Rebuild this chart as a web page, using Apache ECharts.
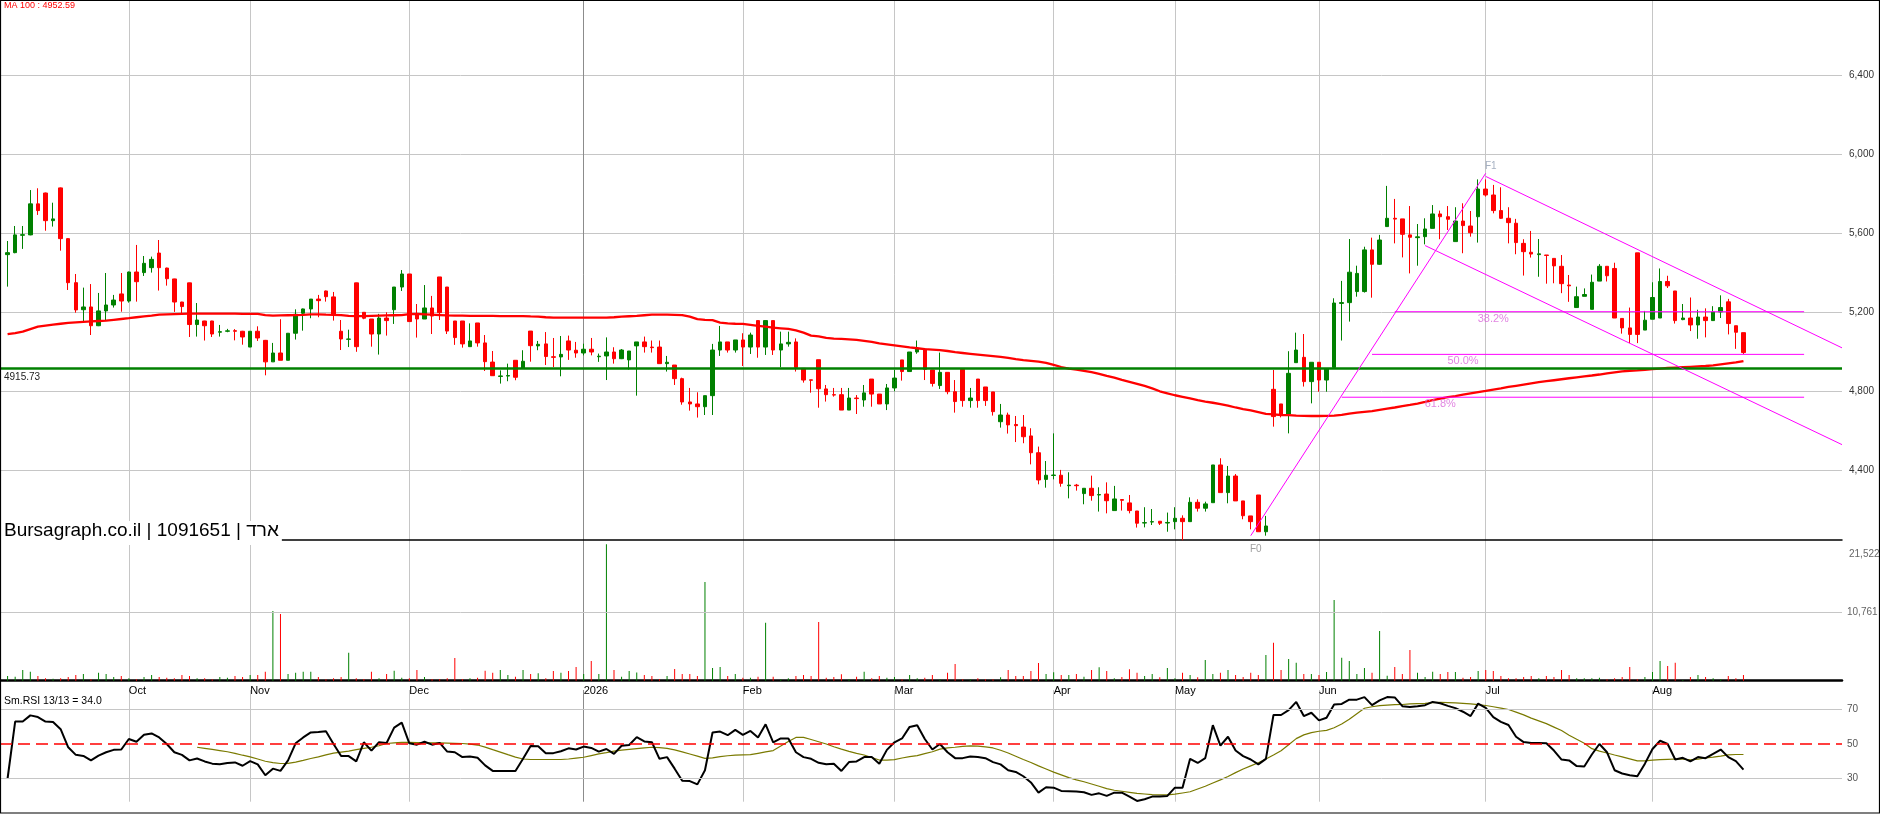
<!DOCTYPE html>
<html><head><meta charset="utf-8">
<script src="https://cdn.jsdelivr.net/npm/echarts@6/dist/echarts.min.js"></script>
<style>html,body{margin:0;padding:0;background:#fff;}#c{width:1880px;height:814px;}</style>
</head><body><div id="c"></div>
<script>
const monthStarts = [16, 32, 53, 76, 97, 117, 138, 154, 173, 195, 217];
const monthLabels = ['Oct', 'Nov', 'Dec', '2026', 'Feb', 'Mar', 'Apr', 'May', 'Jun', 'Jul', 'Aug'];

const opens = [
5492,5502,5590,5592,5749,5804,5664,5830,5573,5350,
5213,5227,5132,5207,5237,5293,5257,5404,5401,5426,
5500,5424,5369,5252,5349,5138,5156,5156,5099,5104,
5107,5104,5024,5104,5058,4949,4994,4957,5094,5195,
5217,5267,5308,5278,5104,5063,5349,5200,5166,5090,
5171,5213,5328,5394,5187,5166,5222,5379,5328,5156,
5156,5026,5146,5045,4948,4875,4877,4957,4918,5105,
5030,5040,4975,4974,5055,5008,4994,5013,4975,4979,
4999,4965,4959,5030,5050,5024,5024,4940,4933,4864,
4746,4736,4722,4778,5009,5050,5009,5060,5024,5158,
5024,5158,5009,5040,5050,4916,4858,4960,4812,4783,
4783,4705,4766,4756,4862,4786,4736,4817,4959,4900,
4999,5014,4908,4829,4896,4798,4911,4753,4862,4822,
4797,4646,4680,4632,4619,4574,4489,4354,4374,4375,
4322,4325,4282,4309,4275,4280,4196,4252,4235,4194,
4133,4138,4142,4133,4140,4157,4140,4238,4208,4236,
4427,4287,4371,4245,4169,4275,4089,4810,4736,4685,
4945,4972,4849,4947,4857,4921,5245,5249,5305,5305,
5516,5443,5634,5676,5673,5592,5578,5583,5625,5698,
5684,5558,5662,5637,5684,5824,5794,5715,5676,5651,
5549,5504,5492,5490,5473,5433,5338,5224,5281,5215,
5358,5433,5422,5169,5121,5501,5110,5165,5171,5356,
5308,5163,5171,5136,5176,5158,5202,5253,5132,5097];
const highs = [
5561,5637,5637,5819,5828,5806,5755,5832,5575,5394,
5325,5343,5298,5399,5288,5399,5406,5541,5485,5482,
5566,5426,5370,5253,5350,5247,5157,5157,5136,5116,
5115,5106,5104,5129,5060,5045,5165,5094,5215,5219,
5267,5288,5310,5303,5161,5112,5350,5200,5166,5192,
5200,5328,5414,5394,5242,5338,5283,5379,5328,5156,
5156,5144,5146,5085,5004,4906,4940,4957,5008,5105,
5055,5100,5070,5080,5082,5050,5041,5070,4991,5073,
5023,5014,5004,5050,5077,5057,5057,4979,4933,4869,
4817,4795,4778,5040,5131,5050,5060,5094,5097,5158,
5158,5158,5102,5102,5068,4916,4858,4960,4832,4817,
4817,4817,4781,4832,4862,4786,4837,4908,4959,4999,
5057,5014,4908,4996,4896,4857,4911,4817,4862,4822,
4797,4736,4692,4675,4680,4613,4520,4447,4587,4402,
4390,4331,4309,4373,4314,4339,4321,4252,4275,4194,
4213,4204,4142,4186,4213,4172,4263,4253,4241,4427,
4461,4422,4381,4245,4169,4275,4169,4908,4736,5003,
5097,5090,4947,4947,4913,5271,5359,5571,5436,5532,
5578,5592,5840,5774,5673,5738,5647,5676,5743,5715,
5738,5732,5752,5713,5873,5873,5845,5833,5732,5673,
5570,5612,5571,5490,5473,5490,5389,5330,5321,5391,
5444,5433,5451,5169,5224,5501,5207,5352,5422,5385,
5308,5242,5275,5213,5220,5231,5286,5268,5132,5097];
const lows = [
5330,5499,5521,5590,5693,5613,5634,5512,5313,5198,
5156,5085,5130,5161,5224,5203,5249,5254,5384,5401,
5310,5335,5202,5190,5075,5077,5057,5075,5077,5099,
5058,5036,5024,5055,4881,4949,4957,4957,5062,5107,
5170,5175,5254,5158,5009,5024,5000,5165,5026,4986,
5082,5141,5308,5153,5072,5166,5090,5161,5090,5035,
5021,5026,5026,4903,4878,4839,4851,4856,4918,4950,
5008,4933,4923,4876,4959,4970,4982,4982,4949,4857,
4940,4963,4910,4778,4996,4996,4940,4900,4832,4732,
4702,4667,4680,4680,4979,4996,4996,4928,4989,4970,
4984,4984,4922,5026,4900,4844,4793,4717,4748,4773,
4705,4705,4685,4722,4722,4736,4705,4800,4854,4900,
4990,4857,4824,4812,4785,4692,4722,4717,4717,4726,
4677,4616,4586,4543,4537,4430,4329,4312,4354,4317,
4258,4297,4228,4246,4191,4182,4196,4196,4182,4110,
4111,4123,4123,4089,4101,4046,4140,4191,4191,4236,
4287,4233,4245,4152,4101,4089,4069,4621,4668,4587,
4945,4824,4739,4798,4798,4921,5057,5153,5279,5300,
5274,5440,5634,5549,5478,5397,5436,5544,5625,5570,
5617,5558,5499,5583,5553,5786,5701,5673,5549,5494,
5386,5477,5380,5345,5347,5297,5253,5224,5281,5215,
5358,5356,5171,5092,5044,5044,5110,5165,5171,5323,
5143,5160,5105,5066,5073,5156,5171,5088,5015,4989];
const closes = [
5502,5592,5593,5749,5715,5664,5673,5573,5350,5212,
5227,5132,5207,5237,5262,5257,5404,5355,5448,5468,
5426,5370,5252,5229,5138,5161,5132,5090,5102,5106,
5104,5075,5104,5070,4949,4994,4957,5094,5190,5217,
5267,5259,5279,5190,5065,5065,5026,5170,5090,5171,
5158,5328,5394,5153,5166,5222,5181,5198,5105,5072,
5040,5055,5045,4950,4879,4878,4880,4871,4952,5031,
5038,4976,4972,4987,5009,4994,5013,4999,4978,4999,
4965,5009,5004,5050,5026,5021,4940,4947,4864,4746,
4736,4722,4778,5009,5050,5009,5060,5024,5085,5024,
5158,5009,5040,5048,4921,4857,4856,4813,4783,4781,
4705,4766,4763,4792,4786,4736,4817,4867,4900,4999,
5016,4911,4840,4896,4798,4748,4753,4766,4753,4753,
4697,4680,4630,4626,4570,4489,4351,4375,4376,4334,
4325,4322,4309,4272,4277,4246,4255,4248,4196,4132,
4135,4140,4132,4136,4157,4140,4238,4208,4230,4427,
4287,4371,4245,4170,4140,4089,4118,4672,4685,4891,
5009,4849,4947,4857,4913,5247,5249,5403,5397,5516,
5443,5566,5676,5672,5595,5580,5582,5622,5698,5684,
5671,5662,5639,5603,5824,5794,5715,5676,5654,5553,
5507,5495,5496,5488,5435,5345,5334,5279,5290,5352,
5433,5385,5171,5121,5088,5088,5160,5275,5356,5334,
5158,5171,5136,5176,5158,5202,5224,5143,5099,4996];

const ma100 = [
5089,5095,5102,5115,5127,5133,5138,5142,5146,5149,
5152,5154,5156,5158,5162,5166,5170,5175,5179,5183,
5188,5190,5191,5192,5193,5193,5193,5193,5193,5193,
5193,5192,5192,5192,5186,5183,5184,5185,5186,5187,
5189,5190,5188,5187,5186,5182,5181,5181,5182,5183,
5184,5185,5186,5191,5192,5190,5188,5186,5184,5183,
5183,5182,5182,5182,5182,5181,5181,5181,5181,5179,
5178,5175,5173,5173,5173,5173,5173,5173,5173,5173,
5175,5178,5180,5182,5185,5188,5188,5188,5187,5186,
5178,5165,5162,5160,5148,5144,5142,5141,5136,5131,
5127,5122,5119,5116,5108,5097,5082,5078,5070,5067,
5065,5063,5060,5055,5050,5043,5038,5033,5028,5022,
5018,5014,5011,5008,5004,4998,4994,4990,4986,4982,
4978,4974,4969,4963,4958,4954,4950,4944,4934,4923,
4915,4910,4904,4897,4888,4878,4869,4858,4848,4838,
4827,4815,4800,4790,4780,4772,4764,4755,4748,4742,
4735,4727,4718,4710,4703,4695,4686,4683,4680,4679,
4677,4676,4675,4675,4676,4677,4681,4687,4692,4696,
4700,4706,4712,4718,4725,4731,4738,4746,4755,4763,
4770,4776,4783,4790,4796,4802,4809,4815,4822,4828,
4834,4840,4846,4851,4856,4861,4866,4871,4876,4880,
4885,4891,4896,4901,4904,4906,4909,4912,4915,4918,
4920,4922,4924,4926,4928,4931,4936,4941,4946,4953];

const volumes = [
735,630,1680,1420,735,370,300,370,580,890,
1050,210,1260,1050,580,735,370,210,580,890,
580,470,370,890,735,370,370,210,580,470,
735,580,890,890,1420,10970,10500,1050,1260,1420,
1420,580,210,370,580,4400,370,250,1420,370,
1050,1570,470,370,1680,580,250,210,370,3570,
250,370,470,1560,1260,1680,890,630,1680,1050,
1160,370,1520,1260,1520,2150,1050,3100,1050,21450,
1680,630,1520,1300,890,735,210,735,1830,1050,
1050,735,15540,2000,2150,735,1050,470,470,630,
9135,630,210,370,735,890,735,9240,470,580,
1000,210,630,1420,370,735,470,580,210,890,
370,470,890,210,1260,2625,210,210,370,210,
210,525,1680,735,735,1520,2780,1050,1310,890,
890,1050,630,1680,2100,1520,370,580,1785,1260,
735,1050,525,2000,370,1260,890,525,3255,1050,
1260,1680,890,580,1260,890,4040,5985,1680,3410,
2835,1050,1050,890,1365,12700,3620,3100,1050,2000,
1260,7820,790,2150,1050,4830,1260,580,1420,1050,
1365,1365,470,580,1520,1680,1520,735,370,370,
580,735,370,735,580,1680,890,370,370,370,
470,210,370,580,2150,210,580,1365,3100,2310,
2835,100,580,890,580,370,210,735,370,890];

const rsi = [
30.0,63.0,63.0,66.6,65.6,63.0,62.8,58.6,48.1,43.7,
43.1,40.5,43.3,45.2,46.6,46.8,52.9,51.3,55.3,56.1,
53.8,50.0,45.2,43.7,40.5,41.6,39.9,38.6,38.2,39.0,
39.3,37.4,40.1,38.2,31.9,35.7,34.4,40.5,50.4,53.8,
56.7,56.9,57.4,50.0,43.0,43.0,39.9,51.0,46.2,51.0,
50.6,59.5,62.4,50.4,49.6,51.3,49.6,50.6,45.6,45.2,
42.4,42.8,42.0,37.6,34.4,34.4,34.4,34.4,41.4,48.9,
48.7,44.7,44.7,45.8,47.5,46.8,48.5,47.7,45.6,47.1,
44.3,49.0,49.4,54.0,51.5,51.0,41.4,42.4,35.7,28.7,
28.5,26.6,34.8,56.7,57.2,55.1,58.2,55.3,57.6,53.8,
61.4,51.0,53.2,53.2,45.2,42.4,41.4,39.1,38.2,38.6,
34.4,39.5,39.9,42.4,42.4,38.6,46.6,51.0,53.2,59.9,
60.9,52.9,46.8,50.0,45.2,41.8,41.8,42.8,42.4,41.8,
39.5,38.2,34.8,33.8,31.3,27.7,21.8,24.9,24.7,22.8,
22.6,22.4,22.0,20.5,21.4,19.9,21.8,21.8,19.5,17.0,
18.0,19.5,19.5,19.9,24.7,24.7,41.4,39.0,41.8,60.9,
49.0,54.2,46.2,43.0,41.0,38.2,41.4,66.8,66.8,69.6,
74.4,66.2,68.1,63.7,65.2,72.9,73.2,75.7,75.7,77.2,
72.5,75.3,77.2,77.0,71.9,71.5,71.9,72.5,74.4,73.6,
72.1,70.8,68.7,66.2,73.4,71.0,65.6,62.8,61.0,54.2,
51.1,50.6,50.6,50.4,46.2,41.0,40.5,37.2,37.0,43.9,
50.0,45.2,34.8,32.9,31.9,31.3,38.6,47.1,51.9,50.0,
41.0,42.0,39.9,42.4,41.8,44.3,46.8,42.4,40.1,35.1];

const rsiSignalStart = 25;
const rsiSignal = [
48.1,47.5,46.9,46.2,45.5,44.6,43.5,42.5,41.3,40.0,
39.2,38.7,38.8,39.5,40.5,41.6,42.5,43.7,44.7,45.3,
45.9,46.7,47.5,48.1,49.0,50.3,50.7,50.9,51.0,50.8,
50.6,50.6,50.6,50.5,50.4,50.3,49.9,49.4,48.2,46.7,
45.3,43.8,42.4,41.3,41.0,41.0,41.0,41.0,41.0,41.3,
41.8,42.3,43.3,44.3,45.0,45.9,46.5,46.9,47.3,47.7,
48.1,47.9,47.5,46.6,45.4,44.2,43.0,41.7,42.0,42.7,
43.2,43.5,43.7,43.8,44.6,45.4,46.2,48.8,51.5,53.8,
53.8,52.6,51.3,50.0,48.4,47.0,45.7,44.6,43.6,42.2,
40.7,40.6,40.9,41.9,42.7,43.3,44.4,45.5,47.0,47.8,
48.1,48.6,48.9,48.8,48.3,47.7,46.4,44.8,42.9,41.0,
39.3,37.3,35.5,33.7,32.1,30.5,29.2,28.1,26.8,25.5,
24.1,23.2,22.6,22.0,21.4,21.0,20.6,20.5,20.5,20.9,
21.6,22.3,23.9,25.5,27.4,29.2,31.2,33.4,35.5,37.3,
39.1,41.3,43.6,46.1,49.6,53.1,55.3,56.6,57.4,57.9,
59.4,61.6,64.3,67.5,70.7,71.6,72.2,72.5,72.8,72.9,
73.2,73.4,73.6,74.0,74.2,74.0,73.8,73.6,73.3,72.8,
72.3,71.6,70.8,70.0,68.5,66.9,65.0,63.4,61.8,59.8,
57.8,55.1,52.7,50.4,47.3,45.9,44.8,43.6,42.5,41.4,
40.2,40.2,40.7,40.9,41.1,41.3,41.2,40.8,41.2,41.9,
42.4,43.0,43.7,43.9,43.9];

const supportLevel = 4915.73;
const volumeGridValue = 10761;
const volumeMaxLabel = '21,522';
const rsiLevels = [70, 50, 30];
const fibStart = [164, 4069];   // F0 : [candle index, price]
const fibEnd = [195, 5904];     // F1
const fibLevels = [
  { name: '38.2%', value: 5203, from: 183, to: 237, labelAt: 196 },
  { name: '50.0%', value: 4987, from: 180, to: 237, labelAt: 192 },
  { name: '61.8%', value: 4770, from: 176, to: 237, labelAt: 189 }
];
const channelUpper = [[195, 5888], [242, 5020]];
const channelLower = [[187, 5538], [242, 4530]];
const maLabel = 'MA 100 : 4952.59';
const rsiLabel = 'Sm.RSI 13/13 = 34.0';
const brandLabel = 'Bursagraph.co.il | 1091651 | ארד';

// ---------- build ----------
const SLOTS = 244;
const cats = Array.from({ length: SLOTS }, (_, k) => String(k));
const monthAt = {};
monthStarts.forEach((s, j) => { monthAt[s + 1] = monthLabels[j]; });
const isMonth = (idx) => monthAt[idx] !== undefined;
const splitColors = monthLabels.map(m => m === '2026' ? '#8c8c8c' : '#c6c6c6');
const X = (i) => i + 1;
const FONT = 'Liberation Sans, Arial, sans-serif';
const UP = '#008000', DOWN = '#ff0000', MAG = '#ff00ff';

function xBase(gridIndex) {
  return {
    type: 'category', gridIndex, data: cats, boundaryGap: false,
    axisLine: { show: false }, axisTick: { show: false }, axisLabel: { show: false },
    splitLine: { show: true, interval: (i) => isMonth(i), lineStyle: { color: splitColors, width: 1 } }
  };
}

const candleData = opens.map((o, i) => [X(i), o, closes[i], lows[i], highs[i]]);
const volData = volumes.map((v, i) => ({ value: [X(i), v], itemStyle: { color: closes[i] >= opens[i] ? UP : DOWN } }));

const priceSplit = ['rgba(0,0,0,0)', '#c6c6c6', '#c6c6c6', '#c6c6c6', '#c6c6c6', '#c6c6c6', '#c6c6c6', 'rgba(0,0,0,0)'];

const series = [
  {
    type: 'candlestick', xAxisIndex: 0, yAxisIndex: 0, data: candleData,
    encode: { x: 0, y: [1, 2, 3, 4] }, barWidth: 4, clip: false, z: 2,
    itemStyle: { color: UP, color0: DOWN, borderColor: UP, borderColor0: DOWN, borderWidth: 1 },
    markLine: {
      silent: true, symbol: ['none', 'none'], animation: false, z: 4,
      lineStyle: { color: UP, width: 2.5, type: 'solid' },
      label: { show: true, position: 'insideStartBottom', formatter: String(supportLevel), color: '#222', fontSize: 10, fontFamily: FONT, distance: 4 },
      data: [{ yAxis: supportLevel }]
    }
  },
  {
    type: 'line', xAxisIndex: 0, yAxisIndex: 0, data: ma100.map((v, i) => [X(i), v]),
    symbol: 'none', lineStyle: { color: '#ff0000', width: 2.3 }, z: 3, silent: true
  },
  {
    type: 'line', xAxisIndex: 0, yAxisIndex: 0, symbol: 'none', z: 5, silent: true,
    lineStyle: { color: MAG, width: 1 },
    data: [[X(fibStart[0]), fibStart[1]], [X(fibEnd[0]), fibEnd[1]]]
  },
  ...[channelUpper, channelLower].map(ch => ({
    type: 'line', xAxisIndex: 0, yAxisIndex: 0, z: 5, silent: true,
    symbol: 'diamond', symbolSize: 6, showSymbol: true,
    itemStyle: { color: '#ffffff', borderColor: '#000', borderWidth: 1.2 },
    lineStyle: { color: MAG, width: 1 },
    data: [{ value: [X(ch[0][0]), ch[0][1]], symbol: 'none' }, { value: [X(ch[1][0]), ch[1][1]] }]
  })),
  ...fibLevels.map(f => ({
    type: 'line', xAxisIndex: 0, yAxisIndex: 0, z: 5, silent: true, symbol: 'none',
    lineStyle: { color: MAG, width: 1 },
    data: [[X(f.from), f.value], [X(f.to), f.value]]
  })),
  {
    type: 'scatter', xAxisIndex: 0, yAxisIndex: 0, z: 6, silent: true, symbolSize: 1,
    itemStyle: { color: 'rgba(0,0,0,0)' },
    label: { show: true, position: 'bottom', distance: 1, color: '#d966d9', fontSize: 11, fontFamily: FONT },
    data: fibLevels.map(f => ({ value: [X(f.labelAt), f.value], label: { formatter: f.name } }))
  },
  {
    type: 'scatter', xAxisIndex: 0, yAxisIndex: 0, z: 6, silent: true, symbolSize: 1,
    itemStyle: { color: 'rgba(0,0,0,0)' },
    label: { show: true, color: '#8e9cb2', fontSize: 10, fontFamily: FONT },
    data: [
      { value: [X(fibEnd[0]), fibEnd[1]], label: { formatter: 'F1', position: 'top', distance: 2, offset: [5, 0] } },
      { value: [X(fibStart[0]), fibStart[1]], label: { formatter: 'F0', position: 'bottom', distance: 8, offset: [5, 0], color: '#888' } }
    ]
  },
  {
    type: 'bar', xAxisIndex: 1, yAxisIndex: 1, data: volData, barWidth: 1, silent: true,
    markLine: {
      silent: true, symbol: ['none', 'none'], animation: false,
      lineStyle: { color: '#c6c6c6', width: 1, type: 'solid' },
      label: { show: true, position: 'end', distance: 5, color: '#666', fontSize: 10, fontFamily: FONT, formatter: '10,761' },
      data: [{ yAxis: volumeGridValue }]
    }
  },
  {
    type: 'line', xAxisIndex: 3, yAxisIndex: 2, data: rsi.map((v, i) => [X(i), v]),
    symbol: 'none', lineStyle: { color: '#000', width: 2 }, z: 4, silent: true,
    markLine: {
      silent: true, symbol: ['none', 'none'], animation: false,
      label: { show: true, position: 'end', distance: 5, color: '#555', fontSize: 10, fontFamily: FONT },
      data: rsiLevels.map(v => v === 50
        ? { yAxis: v, lineStyle: { color: '#ff0000', width: 1.6, type: [12, 6] } }
        : { yAxis: v, lineStyle: { color: '#c6c6c6', width: 1, type: 'solid' } })
    }
  },
  {
    type: 'line', xAxisIndex: 3, yAxisIndex: 2,
    data: rsiSignal.map((v, j) => [X(j + rsiSignalStart), v]),
    symbol: 'none', lineStyle: { color: '#7a7a00', width: 1.2 }, z: 3, silent: true
  }
];

const option = {
  animation: false,
  backgroundColor: '#ffffff',
  title: [
    { text: maLabel, left: 4, top: 1, padding: 0, textStyle: { fontSize: 9, color: '#ff0000', fontWeight: 'normal', fontFamily: FONT } },
    { text: brandLabel, left: 1, top: 521, padding: [0, 3, 5, 3], backgroundColor: '#ffffff', textStyle: { fontSize: 19, color: '#000', fontWeight: 'normal', fontFamily: FONT } },
    { text: rsiLabel, left: 4, top: 696, padding: 0, textStyle: { fontSize: 10.5, color: '#000', fontWeight: 'normal', fontFamily: FONT } },
    { text: volumeMaxLabel, left: 1849, top: 549, padding: 0, textStyle: { fontSize: 10, color: '#666', fontWeight: 'normal', fontFamily: FONT } }
  ],
  grid: [
    { left: 0, right: 38, top: -3.7, height: 553, outerBoundsMode: 'none' },
    { left: 0, right: 38, top: 540, height: 140.7, outerBoundsMode: 'none' },
    { left: 0, right: 38, top: 690, height: 111.7, outerBoundsMode: 'none' }
  ],
  xAxis: [
    xBase(0),
    Object.assign(xBase(1), {
      position: 'bottom',
      axisLine: { show: true, onZero: false, lineStyle: { color: '#000', width: 2.5 } },
      axisLabel: { show: true, interval: (i) => isMonth(i), formatter: (v) => monthAt[+v] || '', align: 'left', margin: 5, fontSize: 11, color: '#000', fontFamily: FONT }
    }),
    Object.assign(xBase(1), {
      position: 'top',
      axisLine: { show: true, onZero: false, lineStyle: { color: '#000', width: 1.5 } },
      splitLine: { show: false }
    }),
    xBase(2)
  ],
  yAxis: [
    {
      type: 'value', gridIndex: 0, min: 4000, max: 6800, interval: 400, position: 'right',
      axisLine: { show: false }, axisTick: { show: false },
      axisLabel: { showMinLabel: false, showMaxLabel: false, margin: 7, fontSize: 10, color: '#333', fontFamily: FONT,
        formatter: (v) => v.toLocaleString('en-US') },
      splitLine: { show: true, showMinLine: true, showMaxLine: true, lineStyle: { color: priceSplit, width: 1 } }
    },
    { type: 'value', gridIndex: 1, min: 0, max: 22134, show: false, splitLine: { show: false } },
    { type: 'value', gridIndex: 2, min: 16.55, max: 81.3, show: false, splitLine: { show: false } }
  ],
  graphic: [
    { type: 'rect', silent: true, z: 100, shape: { x: 0.5, y: 0.5, width: 1879, height: 812.5 }, style: { fill: 'none', stroke: '#000', lineWidth: 1.2 } }
  ],
  series
};

const chart = echarts.init(document.getElementById('c'), null, { renderer: 'canvas' });
chart.setOption(option);
</script>
</body></html>
